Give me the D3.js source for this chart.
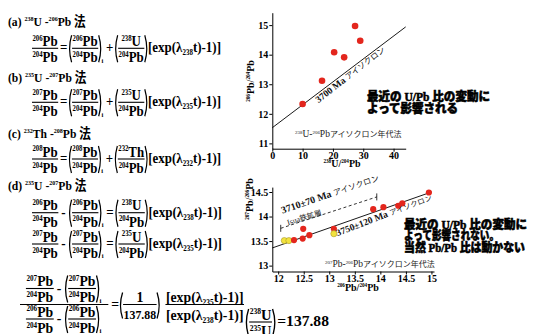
<!DOCTYPE html>
<html>
<head>
<meta charset="utf-8">
<script src="https://cdn.jsdelivr.net/npm/d3@7"></script>
<style>
  body { margin: 0; background: #fff; }
</style>
</head>
<body>
<div id="chart"></div>
<script>
// ---- data: 238U-206Pb isochron (upper plot) ----
const upbX = [10.0, 16.4, 20.4, 23.7, 27.3, 29.0];        // 238U/204Pb
const upbY = [12.33, 13.12, 14.08, 13.91, 14.97, 14.47];  // 206Pb/204Pb
const upbLineX = [0, 44];
const upbLineY = [11.53, 14.94];
const upbXTicks = [0, 10, 20, 30, 40];
const upbYTicks = [11, 12, 13, 14, 15];

// ---- data: 207Pb-206Pb isochron (lower plot) ----
const pbX = [12.12, 12.21, 12.31, 12.48, 12.49, 12.61, 13.09, 13.09, 13.86, 14.06, 14.35, 14.43, 14.95]; // 206Pb/204Pb
const pbY = [13.51, 13.51, 13.52, 13.55, 13.75, 13.62, 13.75, 13.65, 14.15, 14.19, 14.22, 14.27, 14.49]; // 207Pb/204Pb
const pbKind = ['y', 'y', 'r', 'r', 'r', 'r', 'r', 'y', 'r', 'r', 'r', 'r', 'r'];
const iso3750X = [11.885, 15.0];
const iso3750Y = [13.36, 14.5];
const iso3710X = [12.05, 13.93];
const iso3710Y = [13.76, 14.40];
const pbXTicks = [12, 12.5, 13, 13.5, 14, 14.5, 15];
const pbYTicks = [13, 13.5, 14, 14.5];

const svg = d3.select('#chart').append('svg').attr('width', 534).attr('height', 334);
const SERIF = '"Liberation Serif", "Times New Roman", "Noto Sans CJK JP", serif';
const GOTH = '"Noto Sans CJK JP", sans-serif';
const RED = '#e3261d', YEL = '#f2e23e';

// writes text with superscript mass numbers: items are strings or [mass, symbol]
function supText(sel, items, fs) {
  items.forEach(it => {
    if (Array.isArray(it)) {
      sel.append('tspan').attr('font-size', fs * 0.52).attr('dy', -fs * 0.36).text(it[0]);
      sel.append('tspan').attr('font-size', fs).attr('dy', fs * 0.36).text(it[1]);
    } else {
      sel.append('tspan').attr('font-size', fs).text(it);
    }
  });
  return sel;
}

// ---------- equation pieces: each draws with the fraction axis at y=0 and returns its width ----------
function txt(s, fs = 14, y = null) {
  return g => {
    const t = g.append('text').attr('y', y === null ? fs * 0.25 + 0.5 : y)
      .attr('font-family', SERIF).attr('font-weight', 'bold').attr('font-size', fs).text(s);
    return t.node().getComputedTextLength();
  };
}
function iso(mass, sym, fs = 14) {
  return g => {
    const t = g.append('text').attr('y', fs * 0.25 + 0.5)
      .attr('font-family', SERIF).attr('font-weight', 'bold');
    supText(t, [[mass, sym]], fs);
    return t.node().getComputedTextLength();
  };
}
function seq(...items) {
  return g => {
    let x = 0;
    items.forEach(it => {
      if (typeof it === 'number') { x += it; return; }
      x += it(g.append('g').attr('transform', `translate(${x},0)`));
    });
    return x;
  };
}
function frac(num, den, o = {}) {
  const up = o.up ?? -6.5, down = o.down ?? 9.8, pad = o.pad ?? 0.5;
  return g => {
    const gn = g.append('g'), gd = g.append('g');
    const wn = num(gn), wd = den(gd);
    const w = Math.max(wn, wd) + 2 * pad;
    gn.attr('transform', `translate(${(w - wn) / 2},${up})`);
    gd.attr('transform', `translate(${(w - wd) / 2},${down})`);
    g.append('line').attr('x1', 0).attr('x2', w).attr('y1', 0).attr('y2', 0)
      .attr('stroke', '#000').attr('stroke-width', 1.1);
    return w;
  };
}
function paren(inner, sub, top = -13, bot = 14) {
  return g => {
    const pw = 3.5;
    const wi = inner(g.append('g').attr('transform', `translate(${pw + 0.5},0)`));
    const mid = (top + bot) / 2, r = pw + 1 + wi;
    g.append('path').attr('d', `M${pw},${top} Q${-0.8},${mid} ${pw},${bot}`)
      .attr('fill', 'none').attr('stroke', '#000').attr('stroke-width', 1.3);
    g.append('path').attr('d', `M${r},${top} Q${r + pw + 0.8},${mid} ${r},${bot}`)
      .attr('fill', 'none').attr('stroke', '#000').attr('stroke-width', 1.3);
    let w = r + pw;
    if (sub) {
      g.append('text').attr('x', w - 0.5).attr('y', bot + 0.5)
        .attr('font-family', SERIF).attr('font-weight', 'bold').attr('font-size', 7).text(sub);
      w += 2.5;
    }
    return w;
  };
}
const expo = n => seq(txt('[exp(λ'), txt(n, 7.5, 7), txt('t)-1)]'));
const ratio = (m1, s1, m2, s2) => frac(iso(m1, s1), iso(m2, s2));

// draws an expression from x0 on axis y and squeezes it horizontally so it ends at x1
function place(x0, y, x1, it) {
  const g = svg.append('g');
  const w = it(g);
  g.attr('transform', `translate(${x0},${y}) scale(${(x1 - x0) / w},1)`);
}

function heading(y, label, m1, s1, m2, s2) {
  const t = svg.append('text').attr('transform', `translate(8,${y}) scale(0.86,1)`)
    .attr('font-family', SERIF).attr('font-weight', 'bold');
  supText(t, [label + ' ', [m1, s1], ' -', [m2, s2], ' 法'], 13.5);
}

// (a) 238U-206Pb
heading(26, '(a)', '238', 'U', '206', 'Pb');
place(32, 48.3, 221, seq(ratio('206', 'Pb', '204', 'Pb'), 2, txt('='), 1,
  paren(ratio('206', 'Pb', '204', 'Pb'), 'i'), 2, txt('+'), 1,
  paren(ratio('238', 'U', '204', 'Pb')), 0, expo('238')));

// (b) 235U-207Pb
heading(82, '(b)', '235', 'U', '207', 'Pb');
place(32, 102.3, 221, seq(ratio('207', 'Pb', '204', 'Pb'), 2, txt('='), 1,
  paren(ratio('207', 'Pb', '204', 'Pb'), 'i'), 2, txt('+'), 1,
  paren(ratio('235', 'U', '204', 'Pb')), 0, expo('235')));

// (c) 232Th-208Pb
heading(138, '(c)', '232', 'Th', '208', 'Pb');
place(32, 159, 221, seq(ratio('208', 'Pb', '204', 'Pb'), 2, txt('='), 1,
  paren(ratio('208', 'Pb', '204', 'Pb'), 'i'), 2, txt('+'), 1,
  paren(ratio('232', 'Th', '204', 'Pb')), 0, expo('232')));

// (d) Pb-Pb
heading(190, '(d)', '235', 'U', '207', 'Pb');
place(32, 212.7, 222, seq(ratio('206', 'Pb', '204', 'Pb'), 3, txt('-'), 3,
  paren(ratio('206', 'Pb', '204', 'Pb'), 'i'), 2, txt('='), 1,
  paren(ratio('238', 'U', '204', 'Pb')), 0, expo('238')));
place(32, 244, 222, seq(ratio('207', 'Pb', '204', 'Pb'), 3, txt('-'), 3,
  paren(ratio('207', 'Pb', '204', 'Pb'), 'i'), 2, txt('='), 1,
  paren(ratio('235', 'U', '204', 'Pb')), 0, expo('235')));

place(20, 304.5, 244, seq(
  frac(seq(ratio('207', 'Pb', '204', 'Pb'), 3, txt('-'), 3, paren(ratio('207', 'Pb', '204', 'Pb'), 'i')),
       seq(ratio('206', 'Pb', '204', 'Pb'), 3, txt('-'), 3, paren(ratio('206', 'Pb', '204', 'Pb'), 'i')),
       { up: -16, down: 14.5, pad: 6 }),
  3, txt('='), 0,
  paren(frac(txt('1'), txt('137.88', 12), { down: 10.5 }), null, -12, 14), 5,
  frac(expo('235'), expo('238'), { down: 11 })
));
place(245, 322, 329, seq(paren(ratio('238', 'U', '235', 'U')), 1, txt('=137.88', 15)));

// ---------- axis styling ----------
function styleAxis(g) {
  g.select('.domain').attr('stroke', '#000').attr('stroke-width', 1);
  g.selectAll('.tick line').attr('stroke', '#000');
  g.attr('font-family', SERIF).attr('font-size', 10).attr('font-weight', 'bold');
  g.selectAll('.tick text').attr('fill', '#000');
}

// ---------- upper plot: 238U-206Pb isochron ----------
const x1 = d3.scaleLinear().domain([0, 44]).range([272.3, 405.7]);
const y1 = d3.scaleLinear().domain([10.82, 15.42]).range([148.7, 12.7]);

svg.append('g').attr('transform', 'translate(0,148.7)')
  .call(d3.axisBottom(x1).tickValues(upbXTicks).tickSize(3).tickSizeOuter(0).tickPadding(0).tickFormat(d3.format('d')))
  .call(styleAxis);
svg.append('g').attr('transform', 'translate(272.3,0)')
  .call(d3.axisLeft(y1).tickValues(upbYTicks).tickSize(3).tickSizeOuter(0).tickPadding(1).tickFormat(d3.format('d')))
  .call(styleAxis);

svg.append('line')
  .attr('x1', x1(upbLineX[0])).attr('y1', y1(upbLineY[0]))
  .attr('x2', x1(upbLineX[1])).attr('y2', y1(upbLineY[1]))
  .attr('stroke', '#000').attr('stroke-width', 0.9);

svg.selectAll('.upb').data(upbX).enter().append('circle')
  .attr('class', 'upb')
  .attr('cx', d => x1(d)).attr('cy', (d, i) => y1(upbY[i]))
  .attr('r', 3.3).attr('fill', RED);

let t = svg.append('text').attr('transform', 'translate(352,77) rotate(-38)')
  .attr('text-anchor', 'middle').attr('fill', '#111');
t.append('tspan').attr('font-family', SERIF).attr('font-weight', 'bold').attr('font-size', 9.5).text('3700 Ma ');
t.append('tspan').attr('font-family', GOTH).attr('font-size', 8).text('アイソクロン');

t = svg.append('text').attr('x', 295).attr('y', 137).attr('fill', '#222').attr('font-family', SERIF);
supText(t, [['238', 'U'], '-', ['206', 'Pb']], 9.5);
t.append('tspan').attr('font-family', GOTH).attr('font-size', 8).text('アイソクロン年代法');

t = svg.append('text').attr('transform', 'translate(254,81) rotate(-90)').attr('text-anchor', 'middle')
  .attr('font-family', SERIF).attr('font-weight', 'bold');
supText(t, [['206', 'Pb'], '/', ['204', 'Pb']], 10);

t = svg.append('text').attr('x', 342).attr('y', 167).attr('text-anchor', 'middle')
  .attr('font-family', SERIF).attr('font-weight', 'bold');
supText(t, [['238', 'U'], '/', ['204', 'Pb']], 10);

// ---------- lower plot: 207Pb-206Pb isochron ----------
const x2 = d3.scaleLinear().domain([11.885, 15.05]).range([272.3, 434]);
const y2 = d3.scaleLinear().domain([12.88, 14.6]).range([271.5, 187.1]);

svg.append('g').attr('transform', 'translate(0,271.5)')
  .call(d3.axisBottom(x2).tickValues(pbXTicks).tickSize(3).tickSizeOuter(0).tickPadding(0).tickFormat(d3.format('')))
  .call(styleAxis);
svg.append('g').attr('transform', 'translate(272.3,0)')
  .call(d3.axisLeft(y2).tickValues(pbYTicks).tickSize(3).tickSizeOuter(0).tickPadding(1).tickFormat(d3.format('')))
  .call(styleAxis);

svg.append('line')
  .attr('x1', x2(iso3750X[0])).attr('y1', y2(iso3750Y[0]))
  .attr('x2', x2(iso3750X[1])).attr('y2', y2(iso3750Y[1]))
  .attr('stroke', '#000').attr('stroke-width', 0.9);
svg.append('line')
  .attr('x1', x2(iso3710X[0])).attr('y1', y2(iso3710Y[0]))
  .attr('x2', x2(iso3710X[1])).attr('y2', y2(iso3710Y[1]))
  .attr('stroke', '#000').attr('stroke-width', 0.8).attr('stroke-dasharray', '3,2.5');
iso3710X.forEach((d, i) => {
  svg.append('line').attr('x1', x2(d)).attr('x2', x2(d))
    .attr('y1', y2(iso3710Y[i]) - 3.5).attr('y2', y2(iso3710Y[i]) + 3.5)
    .attr('stroke', '#000').attr('stroke-width', 0.8);
});

svg.selectAll('.pb').data(pbX).enter().append('circle')
  .attr('class', 'pb')
  .attr('cx', d => x2(d)).attr('cy', (d, i) => y2(pbY[i]))
  .attr('r', 3.1)
  .attr('fill', (d, i) => pbKind[i] === 'r' ? RED : YEL)
  .attr('stroke', (d, i) => pbKind[i] === 'r' ? 'none' : '#9a8d20').attr('stroke-width', 0.5);

t = svg.append('text').attr('transform', 'translate(331,197) rotate(-19)')
  .attr('text-anchor', 'middle').attr('fill', '#111');
t.append('tspan').attr('font-family', SERIF).attr('font-weight', 'bold').attr('font-size', 10).text('3710±70 Ma ');
t.append('tspan').attr('font-family', GOTH).attr('font-size', 8).text('アイソクロン');

t = svg.append('text').attr('transform', 'translate(305,220) rotate(-17)')
  .attr('text-anchor', 'middle').attr('fill', '#222');
t.append('tspan').attr('font-family', SERIF).attr('font-size', 8).text('Isua');
t.append('tspan').attr('font-family', GOTH).attr('font-size', 7.5).text('鉄鉱層');

t = svg.append('text').attr('transform', 'translate(385,218) rotate(-21)')
  .attr('text-anchor', 'middle').attr('fill', '#111');
t.append('tspan').attr('font-family', SERIF).attr('font-weight', 'bold').attr('font-size', 9.5).text('3750±120 Ma ');
t.append('tspan').attr('font-family', GOTH).attr('font-size', 7.5).text('アイソクロン');

t = svg.append('text').attr('x', 325).attr('y', 267).attr('fill', '#222').attr('font-family', SERIF);
supText(t, [['207', 'Pb'], '-', ['206', 'Pb']], 9.5);
t.append('tspan').attr('font-family', GOTH).attr('font-size', 8).text('アイソクロン年代法');

t = svg.append('text').attr('transform', 'translate(253,199) rotate(-90)').attr('text-anchor', 'middle')
  .attr('font-family', SERIF).attr('font-weight', 'bold');
supText(t, [['207', 'Pb'], '/', ['206', 'Pb']], 10);

t = svg.append('text').attr('x', 358).attr('y', 291).attr('text-anchor', 'middle')
  .attr('font-family', SERIF).attr('font-weight', 'bold');
supText(t, [['206', 'Pb'], '/', ['204', 'Pb']], 10);

// ---------- annotations ----------
function note(x, y, len, parts) {
  const n = svg.append('text').attr('x', x).attr('y', y).attr('font-size', 12)
    .attr('textLength', len).attr('lengthAdjust', 'spacingAndGlyphs')
    .attr('font-weight', 900).attr('fill', '#000').attr('stroke', '#000').attr('stroke-width', 0.55);
  parts.forEach(p => {
    n.append('tspan').attr('font-family', p.serif ? SERIF : GOTH).text(p.s);
  });
}
note(367, 100.5, 123, [{ s: '最近の' }, { s: ' U/Pb ', serif: true }, { s: '比の変動に' }]);
note(367, 113, 91, [{ s: 'よって影響される' }]);
note(404, 228.8, 123, [{ s: '最近の' }, { s: ' U/Pb ', serif: true }, { s: '比の変動に' }]);
note(404, 240.4, 95, [{ s: 'よって影響されない。' }]);
note(404, 252, 121, [{ s: '当然' }, { s: ' Pb/Pb ', serif: true }, { s: '比は動かない' }]);
</script>
</body>
</html>
